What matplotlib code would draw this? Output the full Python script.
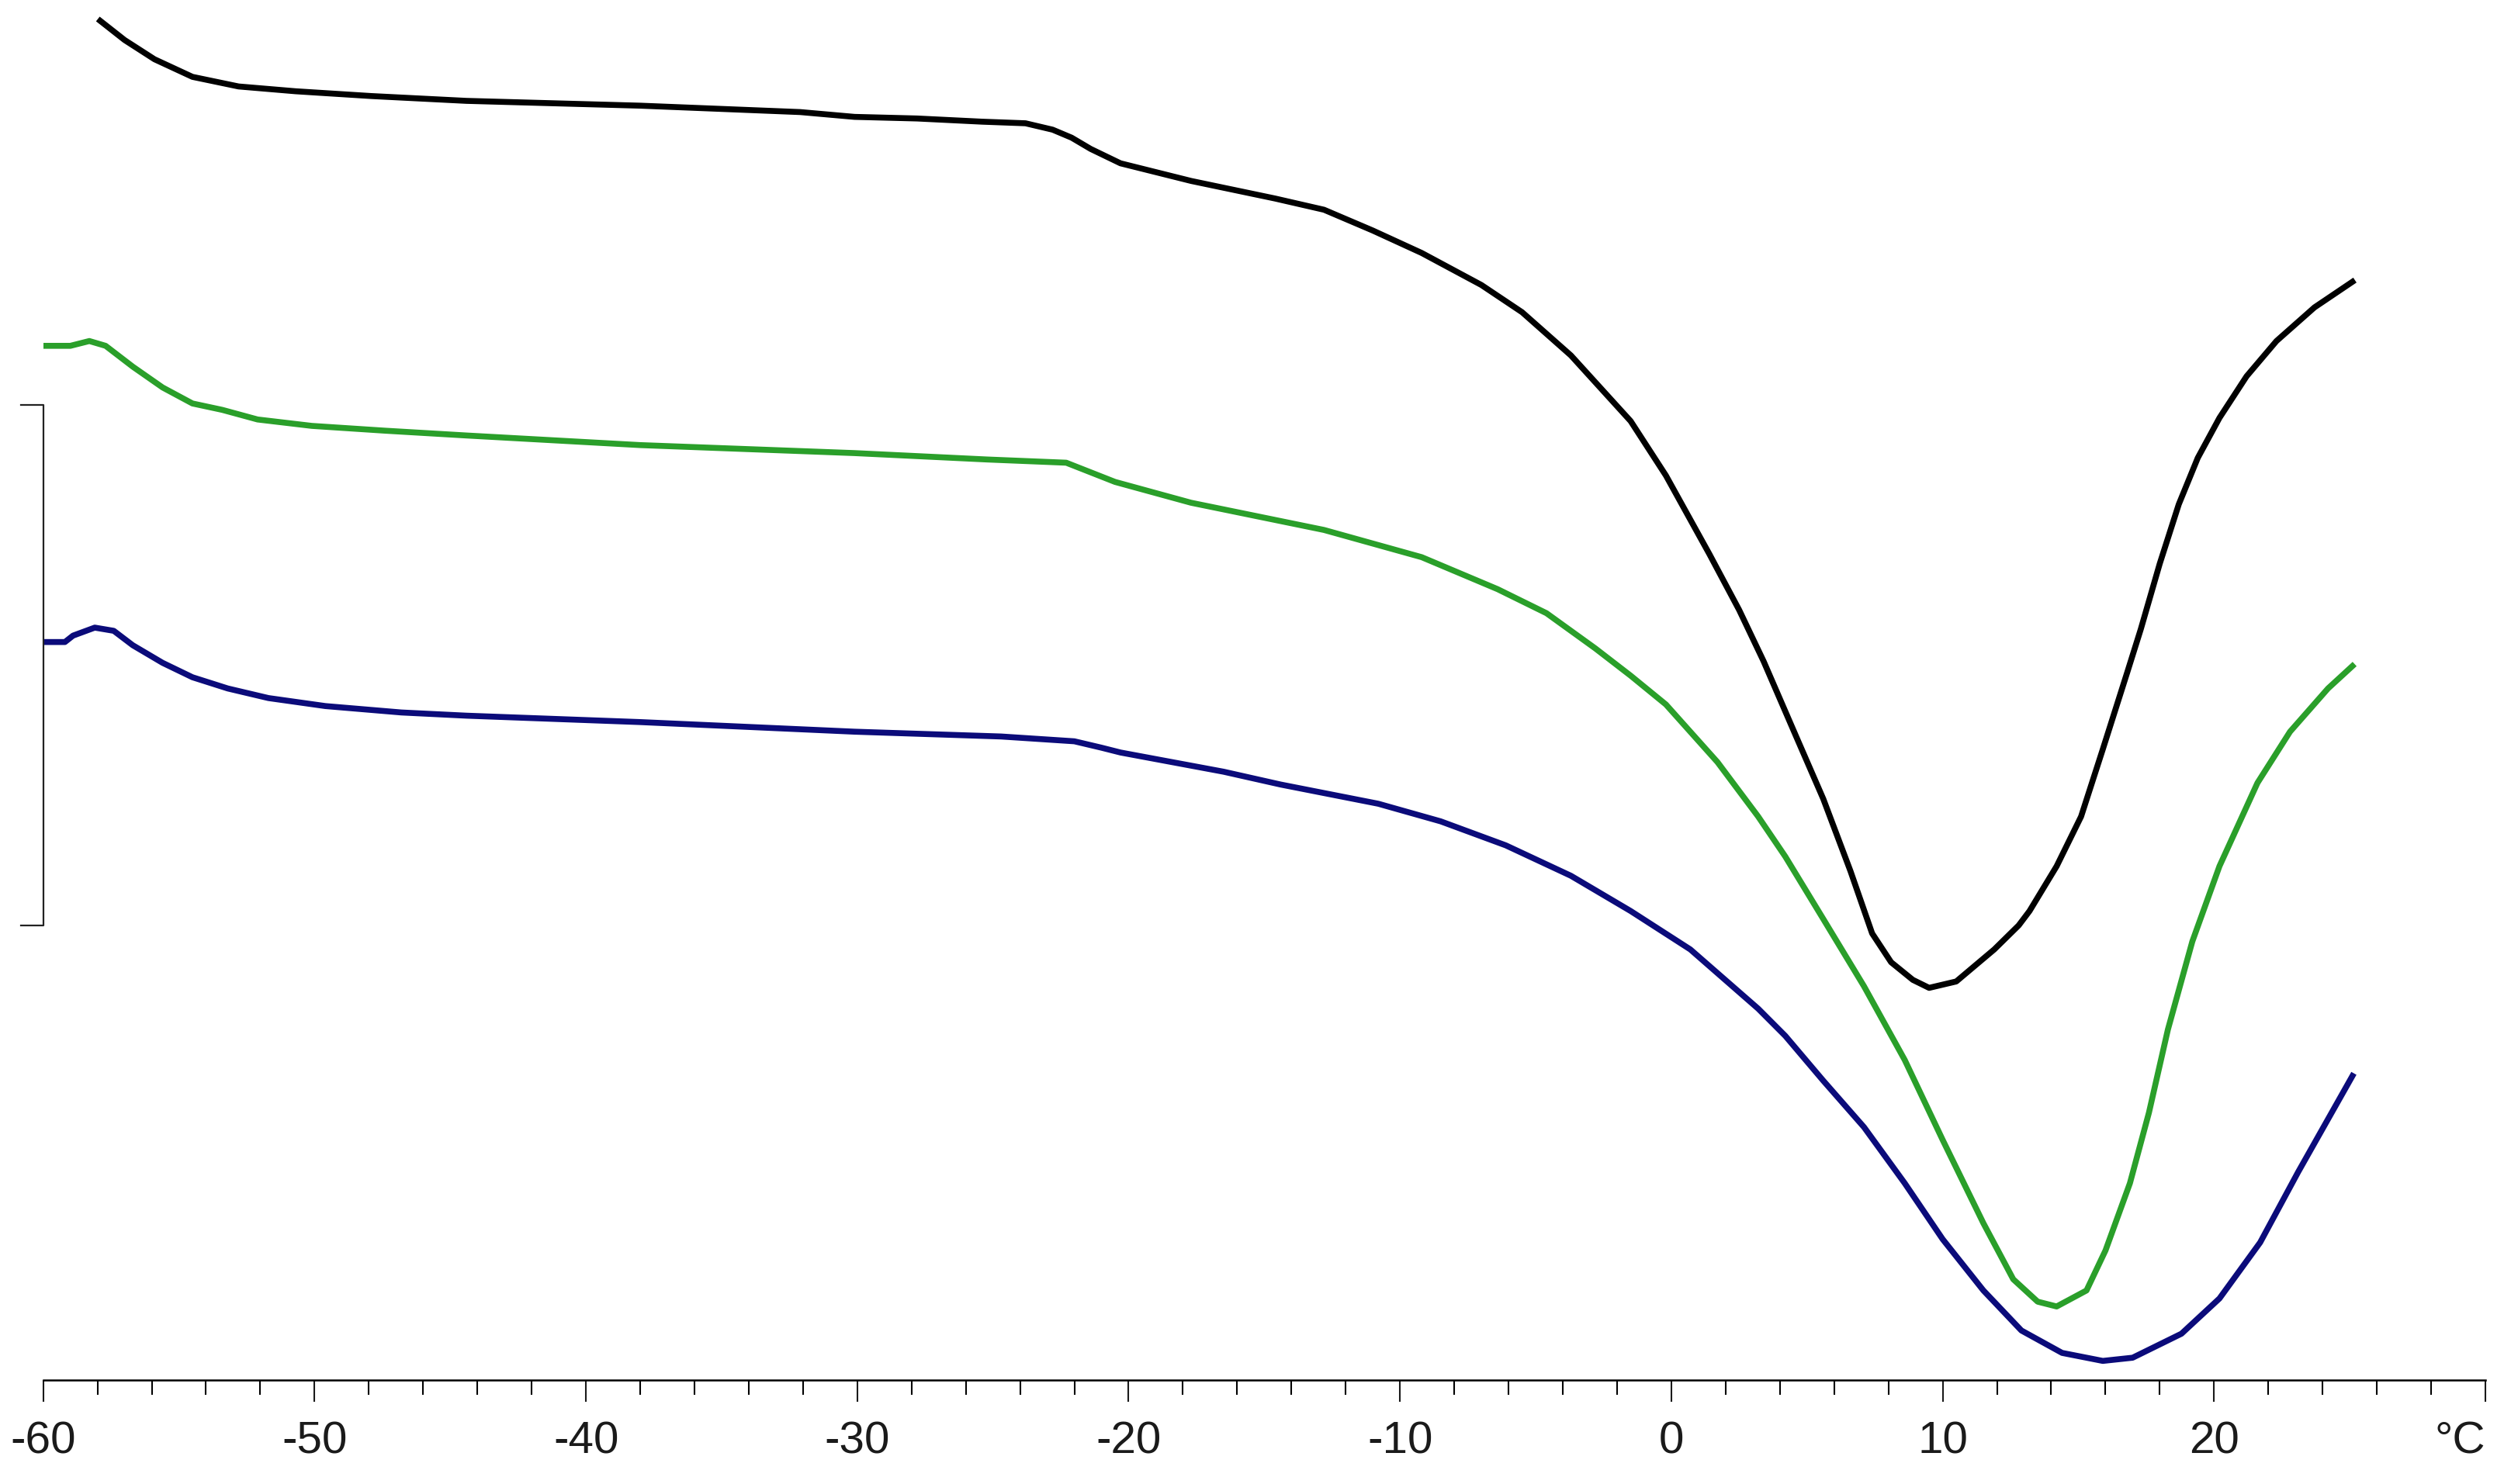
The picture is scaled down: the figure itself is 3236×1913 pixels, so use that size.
import numpy as np
import matplotlib
matplotlib.use("Agg")
import matplotlib.pyplot as plt

plt.rcParams["font.family"] = ["Liberation Sans", "DejaVu Sans"]
plt.rcParams["axes.unicode_minus"] = False

# DSC heat flow curves (arbitrary units), temperature in degC
black_T = [-57.9, -57.0, -55.9, -54.5, -52.8, -50.7, -47.9, -44.4, -38.0, -32.1,
           -30.1, -27.8, -25.4, -23.8, -22.8, -22.1, -21.4, -20.3, -17.7, -14.6,
           -12.8, -11.0, -9.2, -7.0, -5.5, -3.7, -1.5, -0.2, 1.4,
           2.5, 3.4, 4.6, 5.6, 6.6, 7.4, 8.1, 8.9, 9.5, 10.5,
           11.9, 12.8, 13.2, 14.2, 15.1, 15.9, 16.8, 17.3, 18.0, 18.7,
           19.4, 20.2, 21.2, 22.3, 23.7, 25.1]
black_hf = [8.49, 8.37, 8.25, 8.14, 8.08, 8.05, 8.02, 7.99, 7.96, 7.92,
            7.89, 7.88, 7.86, 7.85, 7.81, 7.76, 7.69, 7.60, 7.49, 7.38,
            7.31, 7.18, 7.04, 6.84, 6.67, 6.40, 5.99, 5.65, 5.16,
            4.81, 4.49, 4.02, 3.63, 3.18, 2.79, 2.61, 2.50, 2.45, 2.49,
            2.69, 2.84, 2.93, 3.21, 3.52, 3.94, 4.42, 4.69, 5.10, 5.47,
            5.76, 6.01, 6.27, 6.49, 6.70, 6.86]

green_T = [-60.0, -59.0, -58.3, -57.7, -56.7, -55.6, -54.5, -53.4, -52.1, -50.1,
           -47.4, -44.4, -38.0, -30.1, -25.2, -22.3, -20.5, -17.7, -12.8, -9.2,
           -6.4, -4.6, -2.8, -1.5, -0.2, 1.7, 3.2, 4.2, 5.6, 7.1,
           8.6, 10.0, 11.5, 12.6, 13.5, 14.2, 15.3, 16.0, 16.9, 17.6,
           18.3, 19.2, 20.2, 21.6, 22.8, 24.2, 25.1]
green_hf = [6.46, 6.46, 6.49, 6.46, 6.33, 6.20, 6.10, 6.06, 6.00, 5.96,
            5.93, 5.90, 5.84, 5.79, 5.75, 5.73, 5.61, 5.48, 5.31, 5.14,
            4.94, 4.79, 4.57, 4.40, 4.22, 3.86, 3.52, 3.27, 2.88, 2.46,
            2.00, 1.50, 0.98, 0.63, 0.49, 0.46, 0.56, 0.81, 1.23, 1.67,
            2.19, 2.74, 3.21, 3.73, 4.05, 4.32, 4.46]

blue_T = [-60.0, -59.2, -58.9, -58.1, -57.4, -56.7, -55.6, -54.5, -53.2, -51.7,
          -49.6, -46.8, -44.4, -38.0, -30.1, -24.7, -22.0, -21.0, -20.3, -16.5,
          -14.4, -10.8, -8.5, -6.1, -3.7, -1.5, 0.7, 3.2, 4.2, 5.6,
          7.1, 8.6, 10.0, 11.5, 12.9, 14.4, 15.9, 17.0, 18.8, 20.2,
          21.7, 23.1, 25.1]
blue_hf = [4.61, 4.61, 4.65, 4.70, 4.68, 4.59, 4.48, 4.39, 4.32, 4.26,
           4.21, 4.17, 4.15, 4.11, 4.05, 4.02, 3.99, 3.95, 3.92, 3.80,
           3.72, 3.60, 3.49, 3.34, 3.15, 2.93, 2.69, 2.32, 2.15, 1.87,
           1.58, 1.23, 0.88, 0.56, 0.31, 0.17, 0.12, 0.14, 0.29, 0.51,
           0.86, 1.30, 1.90]

major_ticks = [-60, -50, -40, -30, -20, -10, 0, 10, 20, 30]
tick_labels = ["-60", "-50", "-40", "-30", "-20", "-10", "0", "10", "20", "°C"]

# scale bar on the left (heat flow units)
SCALE_LOW = 2.84
SCALE_HIGH = 6.09

fig = plt.figure(figsize=(32.37, 19.13), dpi=100)
ax = fig.add_axes([0.0172, 0.0700, 0.9723, 0.9300])

ax.plot(black_T, black_hf, color="#000000", lw=5.5, solid_joinstyle="round")
ax.plot(green_T, green_hf, color="#2a9f2a", lw=5.5, solid_joinstyle="round")
ax.plot(blue_T, blue_hf, color="#0b0b7a", lw=5.5, solid_joinstyle="round")

ax.plot([-60.83, -60, -60, -60.83], [SCALE_HIGH, SCALE_HIGH, SCALE_LOW, SCALE_LOW],
        color="#222222", lw=1.6, clip_on=False)

ax.set_xlim(-60, 30)
ax.set_ylim(0, 8.62)

for s in ["left", "right", "top"]:
    ax.spines[s].set_visible(False)
ax.spines["bottom"].set_linewidth(1.8)
ax.set_yticks([])

ax.set_xticks(major_ticks)
ax.set_xticks(np.arange(-60, 31, 2), minor=True)
ax.set_xticklabels(tick_labels)
ax.tick_params(axis="x", which="major", length=20.5, width=1.5, pad=17,
               labelsize=42, colors="#1a1a1a")
ax.tick_params(axis="x", which="minor", length=13.5, width=1.5)
ax.get_xticklabels()[-1].set_horizontalalignment("right")

fig.savefig("out.png", dpi=100)
